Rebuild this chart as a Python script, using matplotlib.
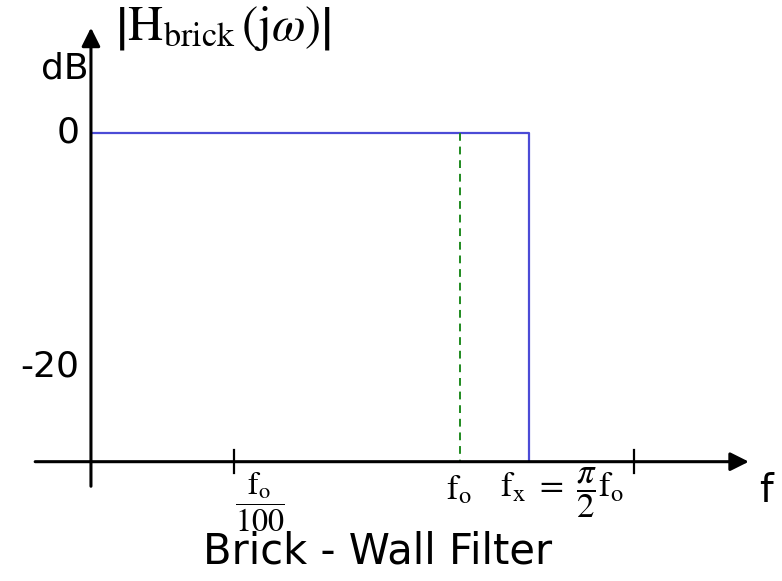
import matplotlib
matplotlib.use("Agg")
import matplotlib.pyplot as plt

plt.rcParams['mathtext.fontset'] = 'stix'
plt.rcParams['font.family'] = 'DejaVu Sans'

# ideal brick-wall response (x in arbitrary frequency units, y in dB)
freq = [0.0, 3.06, 3.06]
gain_db = [0.0, 0.0, -28.1]
f_o = 2.58
tick_pos = [1.0, 3.80]
tick_labels = [r'$\dfrac{\mathrm{f}_{\mathrm{o}}}{100}$', None]
level_db = [0, -20]
level_labels = ['0', '-20']

fig = plt.figure(figsize=(7.82, 5.81), dpi=100)
ax = fig.add_axes([0, 0, 1, 1])
ax.set_xlim(-0.636, 4.832)
ax.set_ylim(-38.3, 11.37)
ax.axis('off')

axis_y = -28.1
# axes with arrow heads
ax.annotate('', xy=(4.60, axis_y), xytext=(-0.39, axis_y),
            arrowprops=dict(arrowstyle='-|>', lw=2.2, color='black',
                            mutation_scale=28, shrinkA=0, shrinkB=0))
ax.annotate('', xy=(0, 9.0), xytext=(0, -30.2),
            arrowprops=dict(arrowstyle='-|>', lw=2.2, color='black',
                            mutation_scale=28, shrinkA=0, shrinkB=0))
for t in tick_pos:
    ax.plot([t, t], [axis_y + 1.0, axis_y - 1.0], color='black', lw=1.6)

# response and corner frequency marker
ax.plot(freq, gain_db, color='#4b4bd6', lw=1.6, solid_capstyle='butt')
ax.plot([f_o, f_o], [0, axis_y], color='#1f8a1f', lw=1.4, ls=(0, (4, 3)))

for y, lab in zip(level_db, level_labels):
    ax.text(-0.08, y, lab, ha='right', va='center', fontsize=26)
ax.text(-0.02, 5.5, 'dB', ha='right', va='center', fontsize=26)
ax.text(4.77, -30.6, 'f', ha='right', va='center', fontsize=28)
ax.text(0.17, 8.9, r'$\left|\mathrm{H}_{\mathrm{brick}}\,(\mathrm{j}\omega)\right|$',
        ha='left', va='center', fontsize=35)

for t, lab in zip(tick_pos, tick_labels):
    if lab:
        ax.text(t + 0.01, axis_y - 0.75, lab, ha='left', va='top', fontsize=23)
ax.text(f_o - 0.01, axis_y - 0.9, r'$\mathrm{f}_\mathrm{o}$', ha='center', va='top', fontsize=25)
ax.text(2.86, axis_y - 0.3, r'$\mathrm{f}_\mathrm{x}\ =\ \dfrac{\pi}{2}\mathrm{f}_\mathrm{o}$',
        ha='left', va='top', fontsize=25)

ax.text(0.78, -35.8, 'Brick - Wall Filter', ha='left', va='center', fontsize=30)

fig.savefig('out.png', dpi=100)
